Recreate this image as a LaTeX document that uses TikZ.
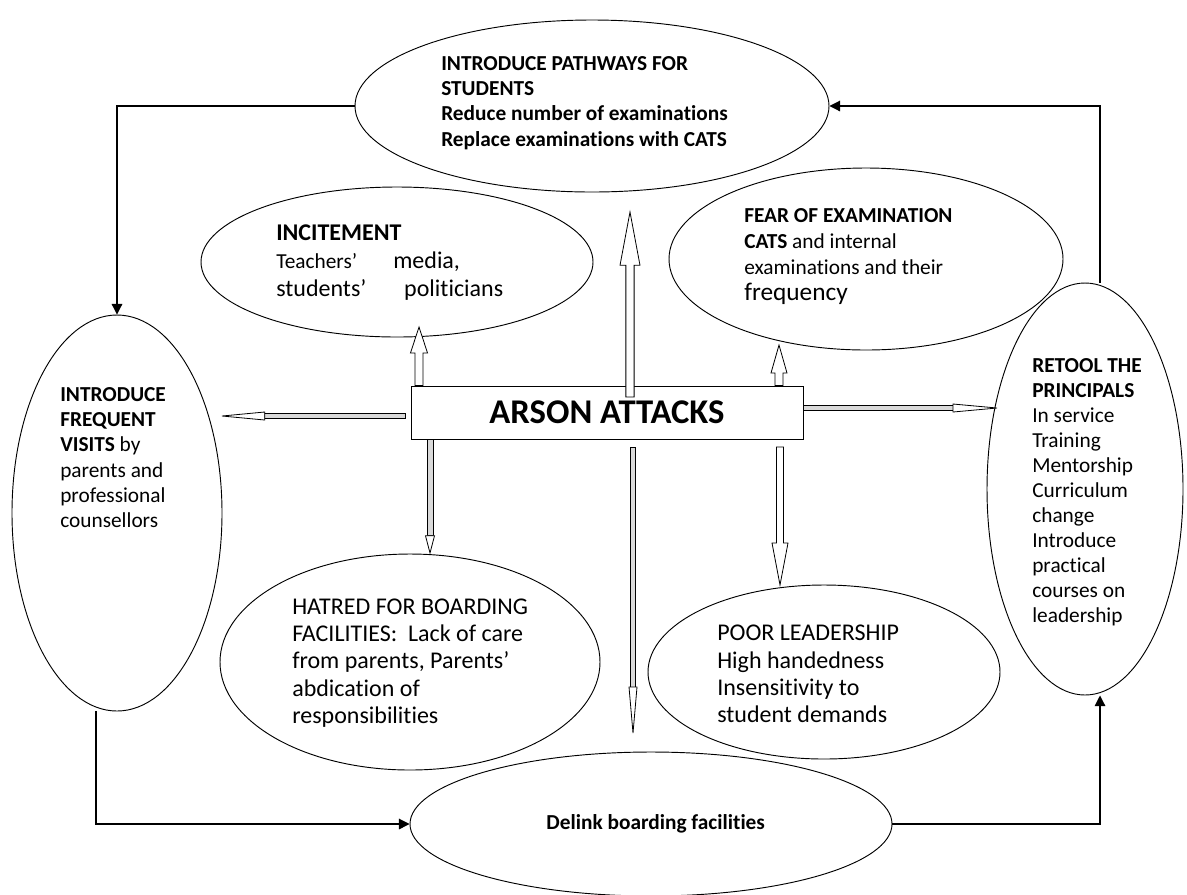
\documentclass[tikz,border=0pt]{standalone}
\usepackage{fontspec}
\setmainfont{Carlito}[Ligatures={CommonOff,RareOff}]
\usetikzlibrary{arrows.meta,calc,shapes.geometric}
\newcommand\fs[2]{\fontsize{#1}{#2}\selectfont}
% block arrow: [style]{start}{tip}{shaft half width}{head half width}{head length}
\newcommand\blkarrow[6][]{%
  \coordinate (bkC) at ($(#3)!#6!(#2)$);
  \draw[blk,#1] ($(#2)!#4!90:(#3)$) -- ($(bkC)!#4!90:(#3)$) -- ($(bkC)!#5!90:(#3)$) -- (#3)
     -- ($(bkC)!#5!-90:(#3)$) -- ($(bkC)!#4!-90:(#3)$) -- ($(#2)!#4!-90:(#3)$) -- cycle;}
\newcommand\thinarrow[6][]{%
  \coordinate (bkC) at ($(#3)!#6!(#2)$);
  \draw[blk,fill=gray!30,#1] ($(#2)!#4!90:(#3)$) -- ($(bkC)!#4!90:(#3)$) -- ($(bkC)!#4!-90:(#3)$) -- ($(#2)!#4!-90:(#3)$) -- cycle;
  \draw[blk] ($(bkC)!#5!90:(#3)$) -- (#3) -- ($(bkC)!#5!-90:(#3)$) -- cycle;}
\begin{document}
\begin{tikzpicture}[x=0.75pt,y=-0.75pt,
  ell/.style={draw,ellipse,line width=0.7pt,inner sep=0pt},
  boxst/.style={draw,rectangle,line width=0.7pt,inner sep=0pt,fill=white},
  blk/.style={draw,line width=0.6pt,fill=white,line join=miter},
  conn/.style={draw,line width=0.8pt,-{Triangle[length=8pt,width=8pt]}},
  txt/.style={inner sep=0pt,anchor=north west,align=left}]
\useasboundingbox (0,0) rectangle (1187,894);

% ellipses
\node[ell,minimum width=0.75*474pt,minimum height=0.75*172pt] (top) at (592,106) {};
\node[ell,minimum width=0.75*392pt,minimum height=0.75*150pt] (incit) at (397,262) {};
\node[ell,minimum width=0.75*394pt,minimum height=0.75*182pt] (fear) at (866,259) {};
\node[ell,minimum width=0.75*210pt,minimum height=0.75*396pt] (left) at (117,513) {};
\node[ell,minimum width=0.75*196pt,minimum height=0.75*412pt] (right) at (1085,489) {};
\node[ell,minimum width=0.75*380pt,minimum height=0.75*216pt] (hatred) at (410,662) {};
\node[ell,minimum width=0.75*352pt,minimum height=0.75*174pt] (poor) at (824,672) {};
\node[ell,minimum width=0.75*482pt,minimum height=0.75*144pt,font=\fs{16}{19}\bfseries] (bottom) at (651,824) {\hspace*{7pt}Delink boarding facilities};

% central box
\node[boxst,minimum width=0.75*392pt,minimum height=0.75*53pt,font=\fs{26}{30}\bfseries] (box) at (607,412.5) {ARSON ATTACKS};

% texts
\node[txt,font=\fs{16}{19}\bfseries] (ttop) at (441,56) {INTRODUCE PATHWAYS FOR\\STUDENTS\\Reduce number of examinations\\Replace examinations with CATS};
\node[txt,font=\fs{18}{21}] (tinc) at (276,224) {\textbf{INCITEMENT}\\\makebox[87.75pt][l]{\fs{16}{21}Teachers’}media,\\\makebox[96pt][l]{students’}politicians};
\node[txt,font=\fs{16}{19.5}] (tfear) at (744,208) {\textbf{FEAR OF EXAMINATION}\\\textbf{CATS} and internal\\examinations and their\\{\fs{19}{19.5}frequency}};
\node[txt,font=\fs{16}{19}] (tleft) at (60,387) {\textbf{INTRODUCE}\\\textbf{FREQUENT}\\\textbf{VISITS} by\\parents and\\professional\\counsellors};
\node[txt,font=\fs{16}{18.75}] (tright) at (1032,358) {\textbf{RETOOL THE}\\\textbf{PRINCIPALS}\\In service\\Training\\Mentorship\\Curriculum\\change\\Introduce\\practical\\courses on\\leadership};
\node[txt,font=\fs{18}{20.3}] (thatred) at (292,599) {HATRED FOR BOARDING\\FACILITIES:\ \ Lack of care\\from parents, Parents’\\abdication of\\responsibilities};
\node[txt,font=\fs{18}{20.5}] (tpoor) at (717,625) {POOR LEADERSHIP\\High handedness\\Insensitivity to\\student demands};

% block arrows from the central box
\coordinate (a1e) at (419,327);
\coordinate (a1s) at (box.north -| a1e);
\blkarrow{a1s}{a1e}{3pt}{6.4pt}{19.5pt}
\coordinate (a2s) at (630,397);
\coordinate (a2e) at (630,212);
\blkarrow{a2s}{a2e}{3.1pt}{7.5pt}{40pt}
\coordinate (a3e) at (779,345);
\coordinate (a3s) at (box.north -| a3e);
\blkarrow{a3s}{a3e}{3pt}{6pt}{21pt}
\coordinate (a4s) at (405,416);
\coordinate (a4e) at (222,416);
\thinarrow{a4s}{a4e}{1.9pt}{3pt}{32pt}
\coordinate (a5e) at (997,408);
\coordinate (a5s) at (box.east |- a5e);
\thinarrow{a5s}{a5e}{1.9pt}{3pt}{33pt}
\coordinate (a6e) at (430,553);
\coordinate (a6s) at (box.south -| a6e);
\thinarrow{a6s}{a6e}{2.25pt}{3.4pt}{13pt}
\coordinate (a7s) at (633,447);
\coordinate (a7e) at (633,733);
\thinarrow{a7s}{a7e}{1.9pt}{3pt}{34.5pt}
\coordinate (a8s) at (780,447);
\coordinate (a8e) at (780,585);
\blkarrow{a8s}{a8e}{2.6pt}{6pt}{31.5pt}

% outer loop connectors
\draw[conn] (top.west) -| (left.north);
\draw[conn] ($(left.south)+(-21,0)$) |- (bottom.west);
\draw[conn] (bottom.east) -| ($(right.south)+(15,0)$);
\draw[conn] ($(right.north)+(15,0)$) |- (top.east);
\end{tikzpicture}
\end{document}
